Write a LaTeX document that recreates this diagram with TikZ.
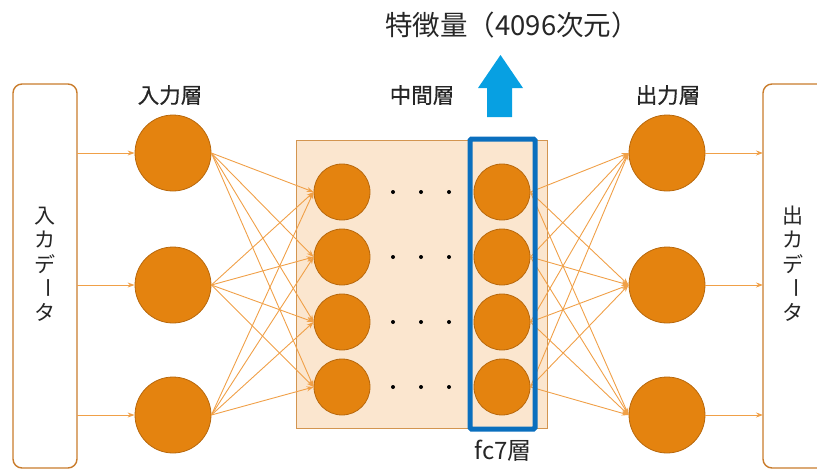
\documentclass[tikz,border=0pt]{standalone}
\usepackage{fontspec}
\usepackage{graphicx}
\setmainfont{Noto Sans CJK JP}
\newfontfamily\labelfont[FakeBold=0.6]{Noto Sans CJK JP}
\usetikzlibrary{arrows.meta}
\definecolor{nodefill}{HTML}{E4830F}
\definecolor{nodeline}{HTML}{B8680C}
\definecolor{wire}{HTML}{F0A048}
\definecolor{boxline}{HTML}{C97C2C}
\definecolor{midfill}{HTML}{FBE6CF}
\definecolor{midline}{HTML}{D39550}
\definecolor{fcblue}{HTML}{0A6FBE}
\definecolor{arrowblue}{HTML}{07A0E2}
\definecolor{txt}{HTML}{262626}
\tikzset{
  neuronbig/.style={circle, fill=nodefill, draw=nodeline, line width=0.8pt, minimum size=76pt, inner sep=0pt},
  neuronsmall/.style={circle, fill=nodefill, draw=nodeline, line width=0.8pt, minimum size=56pt, inner sep=0pt},
  wireline/.style={draw=wire, line width=0.9pt, -{Stealth[length=7pt,width=5pt]}},
  databox/.style={draw=boxline, line width=1.4pt, rounded corners=9pt, fill=white},
  layerlabel/.style={font=\labelfont\fontsize{21.5}{24}\selectfont, text=txt},
  vchar/.style={font=\fontsize{21}{24}\selectfont, text=txt, inner sep=0pt},
  dotmark/.style={circle, fill=black, minimum size=4pt, inner sep=0pt}
}
\begin{document}
\begin{tikzpicture}[x=1pt,y=-1pt]
\useasboundingbox (0,0) rectangle (817,472);
% data boxes
\draw[databox] (13,84) rectangle (77,468);
\draw[databox] (763,84) rectangle (840,468);
\foreach \n/\x/\first in {in/45/入,out/793/出}{
  \node[vchar] (\n c1) at (\x,216) {\first};
  \node[vchar] (\n c2) at (\x,240) {カ};
  \node[vchar] (\n c3) at (\x,264) {デ};
  \node[vchar] (\n c4) at (\x,288) {\rotatebox[origin=c]{-90}{ー}};
  \node[vchar] (\n c5) at (\x,312) {タ};
}
\coordinate (ia1) at (77,153);
\coordinate (ia2) at (77,285);
\coordinate (ia3) at (77,415);
\coordinate (oa1) at (763,153);
\coordinate (oa2) at (763,285);
\coordinate (oa3) at (763,415);
% middle box
\draw[fill=midfill, draw=midline, line width=1pt] (296,140) rectangle (547,428);
% input neurons
\node[neuronbig] (i1) at (173,153) {};
\node[neuronbig] (i2) at (173,285) {};
\node[neuronbig] (i3) at (173,415) {};
% output neurons
\node[neuronbig] (o1) at (667,153) {};
\node[neuronbig] (o2) at (667,285) {};
\node[neuronbig] (o3) at (667,415) {};
% middle neurons
\foreach \j/\y in {1/192,2/257,3/322,4/387}{
  \node[neuronsmall] (a\j) at (342,\y) {};
  \node[neuronsmall] (b\j) at (502,\y) {};
  \node[dotmark] (d1\j) at (393,\y) {};
  \node[dotmark] (d2\j) at (421,\y) {};
  \node[dotmark] (d3\j) at (449,\y) {};
}
% connections
\foreach \i in {1,2,3}{
  \draw[wireline] (ia\i) -- (i\i.west);
  \draw[wireline] (o\i.east) -- (oa\i);
  \foreach \j in {1,2,3,4}{
    \draw[wireline] (i\i.east) -- (a\j.west);
    \draw[wireline] (b\j.east) -- (o\i.west);
  }
}
% fc7 highlight
\draw[draw=fcblue, line width=5pt, rounded corners=1.5pt] (470,139) rectangle (535,429);
\node[font=\fontsize{24}{26}\selectfont, text=txt] (fc7) at (503,451) {fc7層};
% labels
\node[layerlabel] (l1) at (170,95) {入力層};
\node[layerlabel] (l2) at (422,95) {中間層};
\node[layerlabel] (l3) at (668,95) {出力層};
% blue arrow
\fill[arrowblue] (487,117) -- (487,88) -- (478,88) -- (500.5,55) -- (523,88) -- (512,88) -- (512,117) -- cycle;
\node[font=\fontsize{27.5}{30}\selectfont, text=txt] (feat) at (512,25) {特徴量（4096次元）};
\end{tikzpicture}
\end{document}
